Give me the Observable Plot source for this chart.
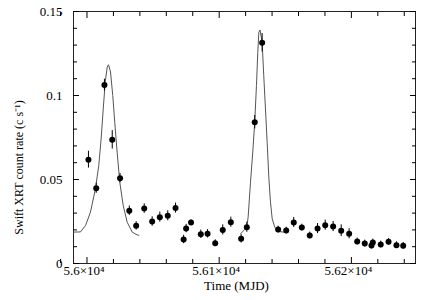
<!DOCTYPE html>
<html>
<head>
<meta charset="utf-8">
<script src="https://cdn.jsdelivr.net/npm/d3@7"></script>
<script src="https://cdn.jsdelivr.net/npm/@observablehq/plot@0.6"></script>
<style>
  html, body { margin: 0; padding: 0; background: white; }
  svg text { font-family: "Liberation Serif", "Times New Roman", Times, serif; }
</style>
</head>
<body>
<div id="chart"></div>
<script>
// Observed Swift XRT light curve
const tMjd = [56001.1, 56007.0, 56013.2, 56019.1, 56025.0, 56032.0, 56037.2, 56043.3, 56049.3, 56055.1,
              56061.1, 56067.0, 56073.1, 56075.0, 56078.7, 56086.1, 56091.2, 56097.0, 56102.7, 56108.8,
              56116.6, 56120.9, 56126.9, 56132.5, 56144.6, 56150.7, 56156.4, 56162.5, 56168.5, 56174.4,
              56180.2, 56186.2, 56192.3, 56198.3, 56204.4, 56210.1, 56215.2, 56216.2, 56222.2, 56228.1,
              56234.1, 56239.2];
const rate = [0.0618, 0.0448, 0.1062, 0.0736, 0.0508, 0.0314, 0.0224, 0.0327, 0.0250, 0.0276,
              0.0284, 0.0330, 0.0143, 0.0208, 0.0244, 0.0174, 0.0177, 0.0121, 0.0200, 0.0246,
              0.0147, 0.0216, 0.0841, 0.1314, 0.0202, 0.0196, 0.0244, 0.0214, 0.0167, 0.0208,
              0.0228, 0.0220, 0.0195, 0.0177, 0.0131, 0.0119, 0.0107, 0.0125, 0.0113, 0.0129,
              0.0109, 0.0105];
const rateErr = [0.0050, 0.0030, 0.0035, 0.0055, 0.0028, 0.0028, 0.0025, 0.0028, 0.0028, 0.0030,
                 0.0030, 0.0030, 0.0025, 0.0025, 0.0015, 0.0025, 0.0025, 0.0020, 0.0030, 0.0030,
                 0.0025, 0.0030, 0.0040, 0.0055, 0.0020, 0.0020, 0.0030, 0.0020, 0.0020, 0.0030,
                 0.0030, 0.0030, 0.0035, 0.0030, 0.0020, 0.0020, 0.0020, 0.0020, 0.0020, 0.0020,
                 0.0020, 0.0020];

// Model curve, first outburst
const modelT1 = [55990.0, 55995.1, 55998.9, 56002.6, 56006.4, 56008.9, 56010.7, 56012.3, 56013.8, 56015.3,
                 56016.3, 56017.8, 56019.5, 56021.0, 56022.8, 56024.8, 56027.4, 56030.4, 56034.2, 56038.0, 56039.2];
const modelR1 = [0.0187, 0.0188, 0.0226, 0.0305, 0.0444, 0.0583, 0.0742, 0.0920, 0.1080, 0.1169,
                 0.1183, 0.1140, 0.1000, 0.0841, 0.0663, 0.0484, 0.0345, 0.0246, 0.0187, 0.0170, 0.0168];
// Model curve, second outburst
const modelT2 = [56116.1, 56118.6, 56120.9, 56121.9, 56123.7, 56125.4, 56126.9, 56128.2, 56129.2, 56130.0,
                 56130.9, 56132.5, 56133.7, 56135.0, 56136.3, 56137.5, 56138.8, 56140.1, 56142.1, 56145.1, 56151.4];
const modelR2 = [0.0177, 0.0196, 0.0216, 0.0276, 0.0484, 0.0663, 0.0841, 0.1060, 0.1258, 0.1377,
                 0.1390, 0.1317, 0.1120, 0.0920, 0.0720, 0.0520, 0.0365, 0.0266, 0.0216, 0.0190, 0.0185];

// Axes
const xMajor = [56000, 56100, 56200];
const xMajorLabels = ["5.6×10⁴", "5.61×10⁴", "5.62×10⁴"];
const xMinor = [55980, 56020, 56040, 56060, 56080, 56120, 56140, 56160, 56180, 56220, 56240];
const yMajor = [0, 0.05, 0.1, 0.15];
const yMajorLabels = ["0", "0.05", "0.1", "0.15"];
const yMinor = [0.01, 0.02, 0.03, 0.04, 0.06, 0.07, 0.08, 0.09, 0.11, 0.12, 0.13, 0.14];
const xTitle = "Time (MJD)";
const yTitle = "Swift XRT count rate (c s⁻¹)";

const obs = tMjd.map((t, i) => ({t, r: rate[i], e: rateErr[i]}));
const m1 = modelT1.map((t, i) => ({t, r: modelR1[i]}));
const m2 = modelT2.map((t, i) => ({t, r: modelR2[i]}));
const xLab = new Map(xMajor.map((v, i) => [v, xMajorLabels[i]]));
const yLab = new Map(yMajor.map((v, i) => [v, yMajorLabels[i]]));

const chart = Plot.plot({
  width: 430,
  height: 300,
  marginLeft: 73,
  marginRight: 15,
  marginTop: 11,
  marginBottom: 37,
  style: {fontFamily: "Liberation Serif, Times New Roman, serif", fontSize: "13px", background: "white", color: "black"},
  x: {domain: [55989.8, 56248.5]},
  y: {domain: [0, 0.15]},
  marks: [
    Plot.frame({stroke: "#222", strokeWidth: 1}),
    // tick marks (inward) on all four sides
    Plot.axisX(xMajor, {anchor: "bottom", tickSize: -6, fill: "none", label: null}),
    Plot.axisX(xMinor, {anchor: "bottom", tickSize: -4, fill: "none", label: null}),
    Plot.axisX(xMajor, {anchor: "top", tickSize: -6, fill: "none", label: null}),
    Plot.axisX(xMinor, {anchor: "top", tickSize: -4, fill: "none", label: null}),
    Plot.axisY(yMajor, {anchor: "left", tickSize: -6, fill: "none", label: null}),
    Plot.axisY(yMinor, {anchor: "left", tickSize: -4, fill: "none", label: null}),
    Plot.axisY(yMajor, {anchor: "right", tickSize: -6, fill: "none", label: null}),
    Plot.axisY(yMinor, {anchor: "right", tickSize: -4, fill: "none", label: null}),
    // tick labels
    Plot.axisX(xMajor, {anchor: "bottom", tickSize: 0, tickPadding: 2, dx: -3, tickFormat: d => xLab.get(d), label: null}),
    Plot.axisY(yMajor, {anchor: "left", tickSize: 0, tickPadding: 11, tickFormat: d => yLab.get(d), label: null}),
    // titles
    Plot.text([xTitle], {frameAnchor: "bottom", dy: 17, dx: -8, lineAnchor: "top", textAnchor: "middle", fontSize: 13}),
    Plot.text([yTitle], {frameAnchor: "left", dx: -54, dy: 30, rotate: -90, textAnchor: "middle", lineAnchor: "middle", fontSize: 12}),
    // model
    Plot.line(m1, {x: "t", y: "r", stroke: "#555", strokeWidth: 1}),
    Plot.line(m2, {x: "t", y: "r", stroke: "#555", strokeWidth: 1}),
    // data
    Plot.ruleX(obs, {x: "t", y1: d => d.r - d.e, y2: d => d.r + d.e, stroke: "black", strokeWidth: 1}),
    Plot.dot(obs, {x: "t", y: "r", r: 3, fill: "black", stroke: "none"})
  ]
});
document.getElementById("chart").appendChild(chart);
</script>
</body>
</html>
